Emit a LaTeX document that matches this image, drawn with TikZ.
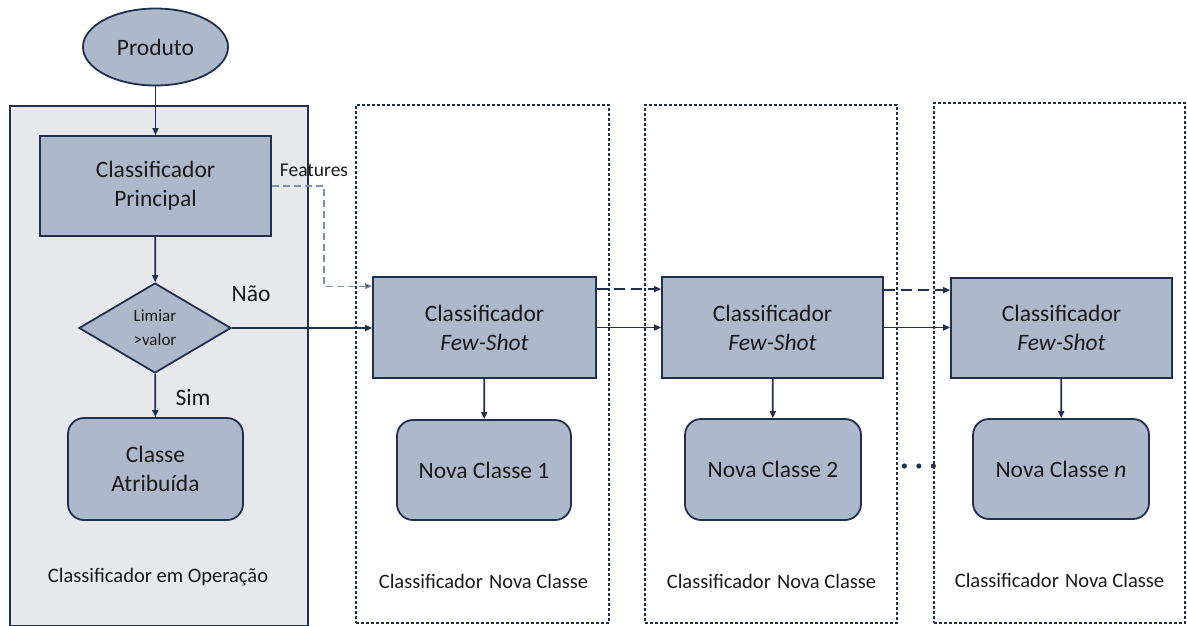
\documentclass[tikz,border=0pt]{standalone}
\usepackage{fontspec}
\setmainfont{Carlito}
\usetikzlibrary{shapes.geometric,arrows.meta}
\definecolor{navy}{HTML}{1F3050}
\definecolor{boxfill}{HTML}{ADB9CA}
\definecolor{opfill}{HTML}{E7E8EB}
\definecolor{featline}{HTML}{7F8FA6}
\definecolor{ink}{HTML}{1A1A1A}
\tikzset{
  big/.style={font=\fontsize{23.5}{29}\selectfont, text=ink, align=center},
  small/.style={font=\fontsize{20.5}{25}\selectfont, text=ink, align=center},
  procbox/.style={big, draw=navy, line width=1.8pt, fill=boxfill, inner sep=0pt},
  roundbox/.style={procbox, rounded corners=16pt},
  opbox/.style={draw=navy, line width=1.8pt, fill=opfill, inner sep=0pt},
  groupbox/.style={draw=navy, line width=1.3pt, dash pattern=on 3pt off 2pt, inner sep=0pt},
  arr/.style={draw=navy, line width=1.7pt, -{Triangle[length=7pt,width=6pt]}},
  dasharr/.style={arr, line width=1.9pt, dash pattern=on 11pt off 6pt},
  featarr/.style={draw=featline, line width=1.2pt, dash pattern=on 7pt off 4pt,
                  -{Triangle[length=7pt,width=6pt,fill=navy]}},
}
\begin{document}
\begin{tikzpicture}[x=1pt,y=-1pt]
\useasboundingbox (0,0) rectangle (1187,625);

% containers
\node[opbox, minimum width=298pt, minimum height=520pt] (op) at (159,366) {};
\node[groupbox, minimum width=253pt, minimum height=518pt] (g1) at (482.5,364) {};
\node[groupbox, minimum width=252pt, minimum height=518pt] (g2) at (771,364) {};
\node[groupbox, minimum width=251pt, minimum height=520pt] (g3) at (1059.5,363) {};

% operating classifier
\node[procbox, ellipse, minimum width=145pt, minimum height=77pt] (prod) at (155.5,47) {Produto};
\node[procbox, minimum width=231pt, minimum height=100pt] (princ) at (155.5,186) {Classificador\\Principal};
\node[procbox, diamond, aspect=1.69, minimum width=152pt, minimum height=90pt,
      font=\fontsize{17}{24}\selectfont] (lim) at (155,328) {Limiar\\>valor};
\node[roundbox, minimum width=175pt, minimum height=102pt] (classe) at (155.5,469) {Classe\\Atribuída};

% few-shot classifiers
\node[procbox, minimum width=223pt, minimum height=101pt] (fs1) at (484.5,327.5) {Classificador\\\textit{Few-Shot}};
\node[procbox, minimum width=221pt, minimum height=101pt] (fs2) at (772.5,327.5) {Classificador\\\textit{Few-Shot}};
\node[procbox, minimum width=221pt, minimum height=100pt] (fs3) at (1061.5,328) {Classificador\\\textit{Few-Shot}};

\node[roundbox, minimum width=174pt, minimum height=100pt] (nc1) at (484,470) {Nova Classe 1};
\node[roundbox, minimum width=176pt, minimum height=101pt] (nc2) at (773,469.5) {Nova Classe 2};
\node[roundbox, minimum width=176pt, minimum height=100pt] (ncn) at (1061,469) {Nova Classe \textit{n}};

% labels
\node[big] (nao) at (251,294) {Não};
\node[big] (sim) at (193,397) {Sim};
\node[font=\fontsize{19.5}{24}\selectfont, text=ink] (feat) at (314,170) {Features};
\node[small] (lop) at (158,577) {Classificador em Operação};
\node[small] (l1) at (483.5,581) {Classificador\hspace{0.3em}Nova Classe};
\node[small] (l2) at (771.5,581) {Classificador\hspace{0.3em}Nova Classe};
\node[small] (l3) at (1059.5,580) {Classificador\hspace{0.3em}Nova Classe};

% connectors
\draw[arr] (prod) -- (princ);
\draw[arr] (princ) -- (lim);
\draw[arr] (lim) -- (classe);
\draw[arr] (lim.east) -- (lim.east -| fs1.west);
\draw[featarr] (princ.east) -- ++(52,0) |- ([yshift=-10pt]fs1.north west);

\draw[dasharr] ([yshift=-13pt]fs1.north east) -- ([yshift=-13pt]fs1.north east -| fs2.west);
\draw[arr] (fs1.east) -- (fs2.west);
\draw[dasharr] ([yshift=-14pt]fs2.north east) -- ([yshift=-14pt]fs2.north east -| fs3.west);
\draw[arr] (fs2.east) -- (fs2.east -| fs3.west);

\draw[arr] (fs1) -- (nc1);
\draw[arr] (fs2) -- (nc2);
\draw[arr] (fs3) -- (ncn);

% continuation dots, ending on the last group's border
\foreach \dx in {0,14.5,29} \fill[navy] ([xshift=\dx pt - 29pt]g3.west |- 0,466) circle (2.6pt);
\end{tikzpicture}
\end{document}
